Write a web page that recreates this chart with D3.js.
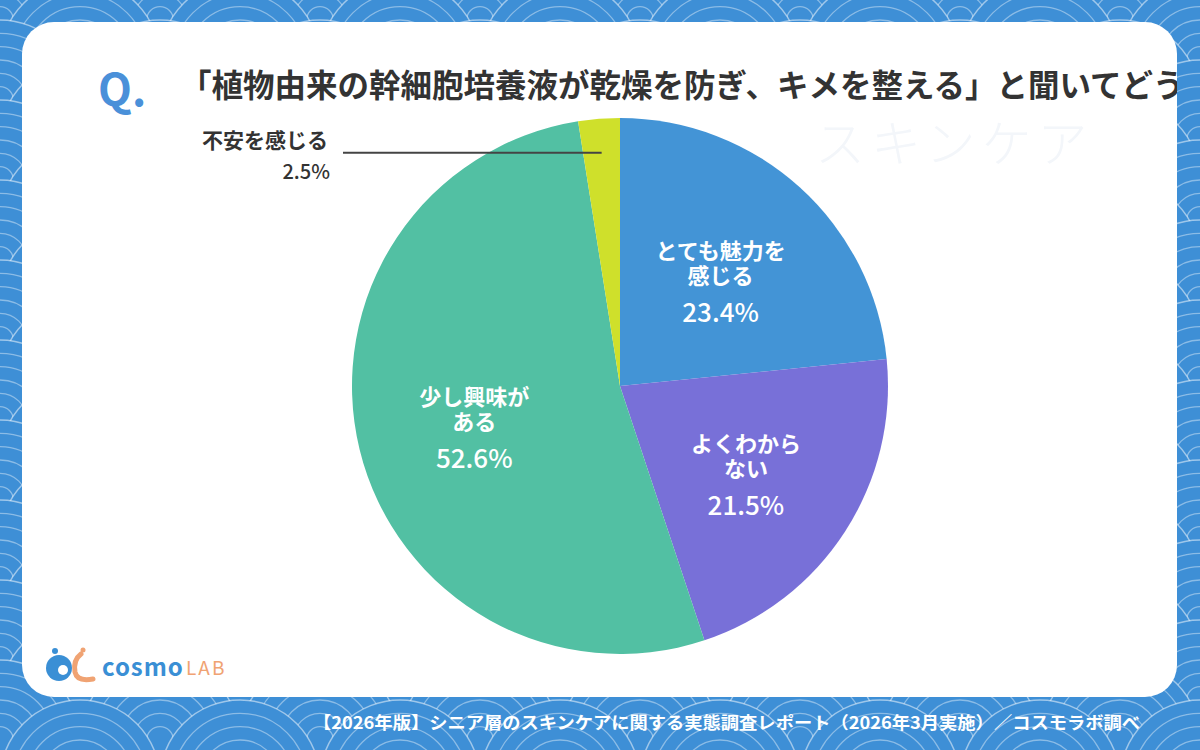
<!DOCTYPE html>
<html>
<head>
<meta charset="utf-8">
<script src="https://cdn.jsdelivr.net/npm/d3@7"></script>
<style>
  html, body { margin: 0; padding: 0; background: #3e8fd6; }
  svg { display: block; }
  text { font-family: "Noto Sans CJK JP", "Noto Sans", sans-serif; }
</style>
</head>
<body>
<svg id="chart"></svg>
<script>
const width = 1200,
      height = 750;

// data
const categories = ['とても魅力を感じる', 'よくわからない', '少し興味がある', '不安を感じる'];
const values = [23.4, 21.5, 52.6, 2.5];
const labelLines = [['とても魅力を', '感じる'], ['よくわから', 'ない'], ['少し興味が', 'ある'], ['不安を感じる']];
const colors = ['#4394d6', '#7870d8', '#52c0a3', '#cfe02b'];

const title = '「植物由来の幹細胞培養液が乾燥を防ぎ、キメを整える」と聞いてどう思いますか？';
const footer = '【2026年版】シニア層のスキンケアに関する実態調査レポート（2026年3月実施）／コスモラボ調べ';

const svg = d3.select('#chart')
    .attr('width', width)
    .attr('height', height);

// seigaiha wave background
const bg = svg.append('g').classed('waves', true);
bg.append('rect')
    .attr('width', width)
    .attr('height', height)
    .attr('fill', '#3e8fd6');

const R = 80, rings = 6;
const centers = [];
for (let row = 0; row * R / 2 < height + R; row++) {
  const off = row % 2 ? R : 0;
  for (let x = -R + off; x < width + 2 * R; x += 2 * R) {
    centers.push({ x, y: row * R / 2 - 20 });
  }
}
const wave = bg.selectAll('.wave')
  .data(centers)
  .enter()
  .append('g')
    .classed('wave', true)
    .attr('transform', (d) => `translate(${d.x}, ${d.y})`);

wave.append('circle')
    .attr('r', R)
    .attr('fill', '#3e8fd6')
    .attr('stroke', 'rgba(255,255,255,0.5)')
    .attr('stroke-width', 1.5);

wave.selectAll('.ring')
  .data(d3.range(1, rings))
  .enter()
  .append('circle')
    .attr('r', (i) => R - i * (R / rings))
    .attr('fill', 'none')
    .attr('stroke', 'rgba(255,255,255,0.4)')
    .attr('stroke-width', 1.3);

// white card
const card = { x: 22, y: 22, w: 1155, h: 675, r: 32 };
svg.append('clipPath')
    .attr('id', 'card-clip')
  .append('rect')
    .attr('x', card.x)
    .attr('y', card.y)
    .attr('width', card.w)
    .attr('height', card.h)
    .attr('rx', card.r);

svg.append('rect')
    .attr('x', card.x)
    .attr('y', card.y)
    .attr('width', card.w)
    .attr('height', card.h)
    .attr('rx', card.r)
    .attr('fill', '#ffffff');

const inner = svg.append('g')
    .attr('clip-path', 'url(#card-clip)');

// faint watermark
inner.append('text')
    .attr('x', 815)
    .attr('y', 162)
    .attr('font-size', 50)
    .attr('font-weight', 300)
    .attr('fill', '#f3f6fa')
    .attr('letter-spacing', 6)
    .text('スキンケア');

// title
inner.append('text')
    .attr('x', 98)
    .attr('y', 106)
    .attr('font-family', 'Lato, "Noto Sans", sans-serif')
    .attr('font-size', 44)
    .attr('font-weight', 700)
    .attr('fill', '#4a90d9')
    .text('Q.');

inner.append('text')
    .attr('x', 180)
    .attr('y', 97)
    .attr('font-size', 31.5)
    .attr('font-weight', 700)
    .attr('fill', '#333333')
    .text(title);

// pie
const cx = 620, cy = 386, radius = 268;

const arcs = d3.pie()
    .sort(null)
    .value((d) => d)(values);

const path = d3.arc()
    .innerRadius(0)
    .outerRadius(radius);

const labelArc = d3.arc()
    .innerRadius(150)
    .outerRadius(150);

const leaderArc = d3.arc()
    .innerRadius(radius * 0.873)
    .outerRadius(radius * 0.873);

const chartGroup = inner.append('g')
    .attr('transform', `translate(${cx}, ${cy})`)
    .classed('chart', true);

chartGroup.selectAll('.arc')
  .data(arcs)
  .enter()
  .append('path')
    .classed('arc', true)
    .attr('d', path)
    .attr('fill', (d, i) => colors[i]);

const fmt = (v) => v.toFixed(1) + '%';

// labels inside big slices
const big = arcs.filter((d) => d.data >= 10);
const lab = chartGroup.selectAll('.lab')
  .data(big)
  .enter()
  .append('g')
    .classed('lab', true)
    .attr('transform', (d) => {
      const c = labelArc.centroid(d);
      return `translate(${c[0]}, ${c[1]})`;
    });

lab.each(function (d) {
  const i = d.index;
  const g = d3.select(this);
  const t = g.append('text')
      .attr('y', -16)
      .attr('text-anchor', 'middle')
      .attr('font-size', 22)
      .attr('font-weight', 700)
      .attr('fill', '#ffffff');
  labelLines[i].forEach((line, k) => {
    t.append('tspan')
        .attr('x', 0)
        .attr('dy', k === 0 ? 0 : 25)
        .text(line);
  });
  g.append('text')
      .attr('y', 47)
      .attr('text-anchor', 'middle')
      .attr('font-size', 26)
      .attr('font-weight', 500)
      .attr('fill', '#ffffff')
      .text(fmt(d.data));
});

// small slice: leader line and outside label
const small = arcs.filter((d) => d.data < 10);
small.forEach((d) => {
  const p = leaderArc.centroid(d);
  const lineEnd = 343 - cx;
  chartGroup.append('line')
      .attr('x1', p[0])
      .attr('y1', p[1])
      .attr('x2', lineEnd)
      .attr('y2', p[1])
      .attr('stroke', '#444444')
      .attr('stroke-width', 2);
  chartGroup.append('text')
      .attr('x', lineEnd - 15)
      .attr('y', p[1] - 5)
      .attr('text-anchor', 'end')
      .attr('font-size', 21)
      .attr('font-weight', 700)
      .attr('fill', '#333333')
      .text(labelLines[d.index][0]);
  chartGroup.append('text')
      .attr('x', lineEnd - 13)
      .attr('y', p[1] + 26)
      .attr('text-anchor', 'end')
      .attr('font-size', 20)
      .attr('font-weight', 500)
      .attr('fill', '#333333')
      .text(fmt(d.data));
});

// logo
const logo = inner.append('g')
    .attr('transform', 'translate(45, 646)');
logo.append('circle').attr('cx', 14).attr('cy', 22).attr('r', 13).attr('fill', '#3a8fd5');
logo.append('circle').attr('cx', 18).attr('cy', 24).attr('r', 5).attr('fill', '#ffffff');
logo.append('circle').attr('cx', 10).attr('cy', 5).attr('r', 3).attr('fill', '#3a8fd5');
logo.append('path')
    .attr('d', 'M36 8 Q28 14 30 26 Q32 36 48 33')
    .attr('fill', 'none')
    .attr('stroke', '#f0a373')
    .attr('stroke-width', 5)
    .attr('stroke-linecap', 'round');
logo.append('circle').attr('cx', 38).attr('cy', 4).attr('r', 2.5).attr('fill', '#f0a373');
logo.append('text')
    .attr('x', 57)
    .attr('y', 30)
    .attr('font-family', '"Noto Sans", sans-serif')
    .attr('font-size', 24)
    .attr('font-weight', 600)
    .attr('letter-spacing', 1)
    .attr('fill', '#3a8fd5')
    .text('cosmo');
logo.append('text')
    .attr('x', 141)
    .attr('y', 29)
    .attr('font-family', '"Noto Sans", sans-serif')
    .attr('font-size', 19)
    .attr('font-weight', 400)
    .attr('letter-spacing', 2)
    .attr('fill', '#f0a373')
    .text('LAB');

// footer
svg.append('text')
    .attr('x', 313)
    .attr('y', 729)
    .attr('font-size', 17)
    .attr('font-weight', 700)
    .attr('fill', '#ffffff')
    .attr('textLength', 827)
    .attr('lengthAdjust', 'spacingAndGlyphs')
    .text(footer);
</script>
</body>
</html>
